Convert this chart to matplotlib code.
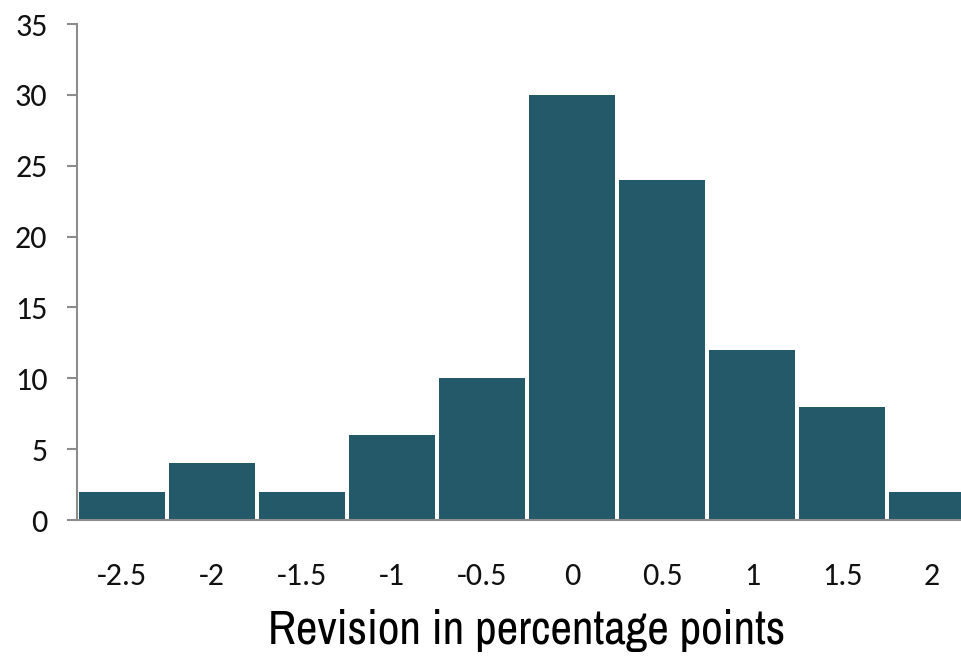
import matplotlib
matplotlib.use("Agg")
import matplotlib.pyplot as plt

# revision histogram counts
bins = ["-2.5", "-2", "-1.5", "-1", "-0.5", "0", "0.5", "1", "1.5", "2"]
counts = [2, 4, 2, 6, 10, 30, 24, 12, 8, 2]

bar_color = "#235968"
axis_color = "#8C8C8C"

fig = plt.figure(figsize=(9.61, 6.56), dpi=100)
# axes runs a little past the right edge, so the last bar is cut off
ax = fig.add_axes([77 / 961, 1 - 520 / 656, 900 / 961, 496 / 656])

x = range(len(bins))
ax.bar(x, counts, width=0.945, color=bar_color, edgecolor="none")

ax.set_xlim(-0.5, len(bins) - 0.5)
ax.set_ylim(0, 35)
ax.set_yticks(range(0, 36, 5))
ax.set_xticks(list(x))
ax.set_xticklabels(bins)

for side in ["top", "right"]:
    ax.spines[side].set_visible(False)
for side in ["left", "bottom"]:
    ax.spines[side].set_color(axis_color)
    ax.spines[side].set_linewidth(1.5)

ax.tick_params(axis="y", direction="out", length=7.2, width=1.5, color=axis_color,
               pad=14, labelsize=23)
ax.tick_params(axis="x", length=0, pad=30, labelsize=23)
for lab in ax.get_xticklabels() + ax.get_yticklabels():
    lab.set_family(["Carlito", "DejaVu Sans"])
    lab.set_color("#111111")

ax.set_xlabel("Revision in percentage points", fontsize=34, labelpad=14,
              family=["Archivo Narrow", "DejaVu Sans"])

fig.savefig("out.png", dpi=100)
